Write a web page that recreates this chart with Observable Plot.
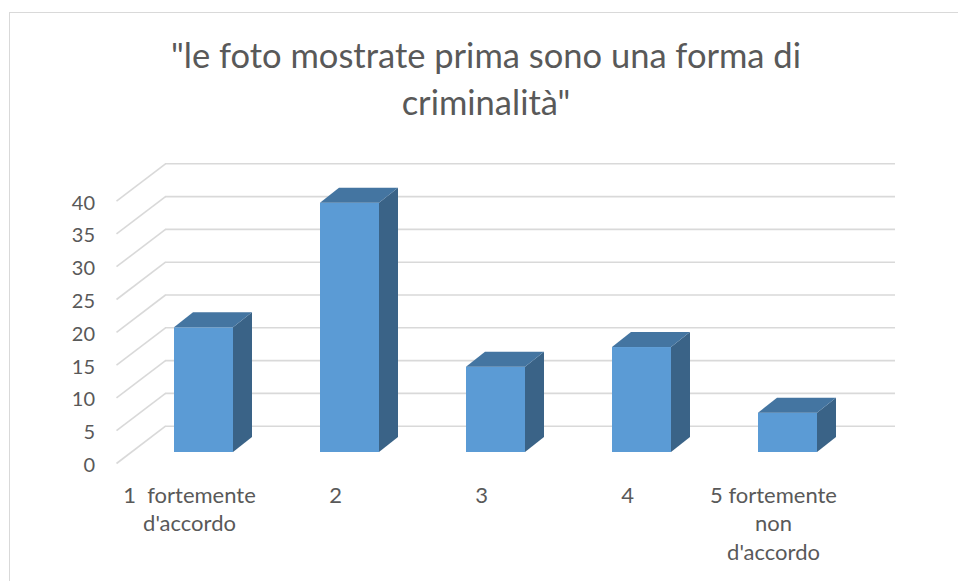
<!DOCTYPE html>
<html>
<head>
<meta charset="utf-8">
<script src="https://cdn.jsdelivr.net/npm/d3@7"></script>
<script src="https://cdn.jsdelivr.net/npm/@observablehq/plot@0.6"></script>
<style>
  html, body { margin: 0; padding: 0; background: #fff; }
  #wrap { position: relative; width: 958px; height: 581px; overflow: hidden; font-family: Lato, "Open Sans", sans-serif; }
  #frame { position: absolute; left: 9px; top: 12px; width: 960px; height: 600px;
           border-top: 1px solid #d9d9d9; border-left: 1px solid #d9d9d9; }
  #title { position: relative; height: 130px; box-sizing: border-box; padding-top: 31px; padding-left: 14px;
           text-align: center; color: #595959; font-size: 34.5px; line-height: 47px; white-space: nowrap; }
  #chart svg { display: block; overflow: visible; }
</style>
</head>
<body>
<div id="wrap">
  <div id="frame"></div>
  <div id="title">"le foto mostrate prima sono una forma di<br>criminalità"</div>
  <div id="chart"></div>
</div>
<script>
// ---- data ----
const categories = ["1  fortemente\nd'accordo", "2", "3", "4", "5 fortemente\nnon\nd'accordo"];
const values = [19, 38, 13, 16, 6];
const yTicks = [0, 5, 10, 15, 20, 25, 30, 35, 40];

// ---- layout (pixels) ----
const W = 958, H = 451;
const mL = 130.5, mR = 97.5, mT = 59.6, mB = 129;
const pxX = (W - mL - mR) / 5;      // px per x unit
const pxY = (H - mT - mB) / 40;     // px per y unit
const barHalf = 29.5 / pxX;
const depthX = 19 / pxX, depthY = 15 / pxY;            // bar depth
const backDX = 34.5, backDY = -26.3;                     // back wall offset (px)
const frontDX = -14.5, frontDY = 11;                     // front plane offset (px)

const bars = categories.map((c, i) => ({c, i, v: values[i], xl: i + 0.5 - barHalf, xr: i + 0.5 + barHalf}));
const sidePts = bars.flatMap(b => [
  {c: b.c, x: b.xr, y1: 0, y2: b.v},
  {c: b.c, x: b.xr + depthX, y1: depthY, y2: b.v + depthY}
]);
const topPts = bars.flatMap(b => [
  {c: b.c, y: b.v, x1: b.xl, x2: b.xr},
  {c: b.c, y: b.v + depthY, x1: b.xl + depthX, x2: b.xr + depthX}
]);

const grid = "#d9d9d9";
const textColor = "#595959";

const chart = Plot.plot({
  width: W, height: H,
  marginLeft: mL, marginRight: mR, marginTop: mT, marginBottom: mB,
  style: {fontFamily: "Lato, 'Open Sans', sans-serif", background: "transparent"},
  x: {domain: [0, 5], axis: null},
  y: {domain: [0, 40], axis: null},
  marks: [
    // back wall gridlines
    Plot.ruleY(yTicks, {dx: backDX, dy: backDY, stroke: grid, strokeWidth: 1.6}),
    // side wall diagonals
    Plot.link(yTicks, {
      x1: () => frontDX / pxX, y1: d => d - frontDY / pxY,
      x2: () => backDX / pxX, y2: d => d - backDY / pxY,
      stroke: grid, strokeWidth: 1.6
    }),
    // y tick labels on the front plane
    Plot.text(yTicks, {
      x: () => 0, y: d => d, text: d => String(d),
      dx: frontDX - 21.5, dy: frontDY + 2, textAnchor: "end",
      fill: textColor, fontSize: 20
    }),
    // bars: front, side, top
    Plot.rect(bars, {x1: "xl", x2: "xr", y1: () => 0, y2: "v", fill: "#5b9bd5"}),
    Plot.areaY(sidePts, {x: "x", y1: "y1", y2: "y2", z: "c", fill: "#3a6387", curve: "linear"}),
    Plot.areaX(topPts, {y: "y", x1: "x1", x2: "x2", z: "c", fill: "#4475a1", curve: "linear"}),
    // category labels
    Plot.text(bars, {
      x: b => b.i + 0.5, y: () => 0, text: "c",
      dx: frontDX, dy: 30, lineAnchor: "top", lineHeight: 1.3,
      textAnchor: "middle", fill: textColor, fontSize: 22
    })
  ]
});
document.getElementById("chart").appendChild(chart);
</script>
</body>
</html>
